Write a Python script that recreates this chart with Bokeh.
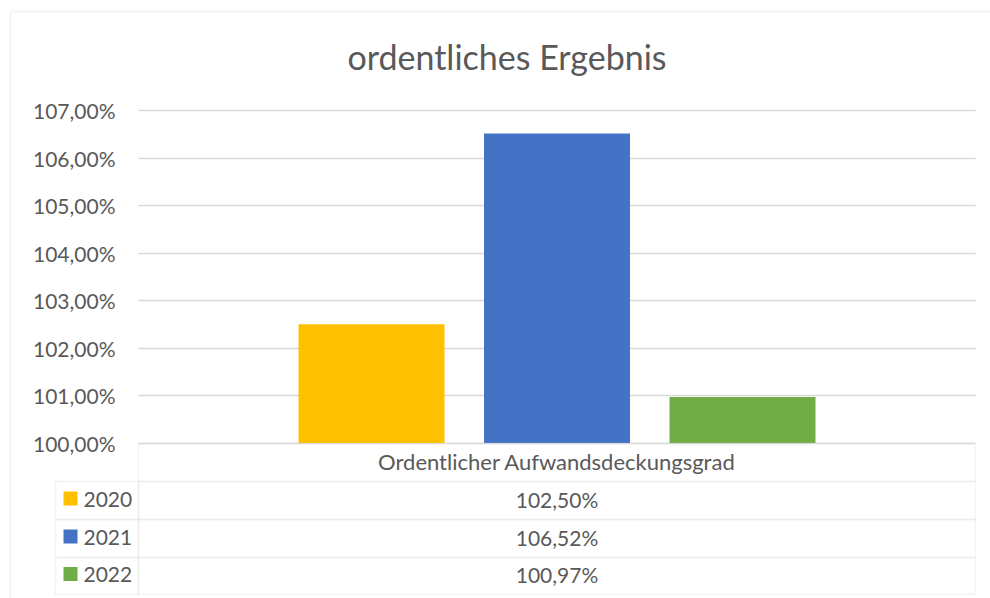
from bokeh.plotting import figure
from bokeh.models import Range1d, FixedTicker, BoxAnnotation, Label
from bokeh.embed import file_html
from bokeh.resources import INLINE

# ---- data ----
title_text = "ordentliches Ergebnis"
category = "Ordentlicher Aufwandsdeckungsgrad"
years = ["2020", "2021", "2022"]
values = [102.50, 106.52, 100.97]
colors = ["#FFC000", "#4472C4", "#70AD47"]
y_ticks = [100, 101, 102, 103, 104, 105, 106, 107]
y_tick_labels = ["100,00%", "101,00%", "102,00%", "103,00%",
                 "104,00%", "105,00%", "106,00%", "107,00%"]

TXT = "#595959"
GRID = "#D9D9D9"
FONT = "Lato"

W, H = 990, 598
# plot-area geometry (canvas px)
PA_L, PA_R = 138, 975
PX_PER_CAT = 185.5          # distance between bar centres
FIRST_CENTER = 371.0        # px of first bar centre
PX_PER_PCT = 47.46          # px per 1 percentage point
Y100 = 442.5                # px of 100 %

x_pos = list(range(len(years)))


def px_to_x(px):
    return (px - FIRST_CENTER) / PX_PER_CAT


def px_to_y(py):
    return 100 + (Y100 - py) / PX_PER_PCT


p = figure(width=W, height=H, title=None,
           x_range=Range1d(px_to_x(0), px_to_x(W)),
           y_range=Range1d(px_to_y(H), px_to_y(0)),
           output_backend="svg", toolbar_location=None,
           x_axis_location=None,
           min_border=0, min_border_left=0, min_border_right=0,
           min_border_top=0, min_border_bottom=0)
p.background_fill_color = "white"
p.border_fill_color = "white"
p.outline_line_color = None

p.vbar(x=x_pos, top=values, bottom=100, width=146 / PX_PER_CAT,
       color=colors, line_color=None)

# y axis pinned to the plot-area's left edge
yax = p.yaxis[0]
yax.fixed_location = px_to_x(PA_L)
yax.ticker = FixedTicker(ticks=y_ticks)
yax.major_label_overrides = {t: l for t, l in zip(y_ticks, y_tick_labels)}
yax.axis_line_color = None
yax.major_tick_line_color = None
yax.minor_tick_line_color = None
yax.major_tick_out = 0
yax.major_tick_in = 0
yax.major_label_standoff = 23
yax.major_label_text_font = FONT
yax.major_label_text_font_size = "21px"
yax.major_label_text_color = TXT

p.xgrid.visible = False
yg = p.ygrid[0]
yg.ticker = FixedTicker(ticks=y_ticks)
yg.grid_line_color = GRID
yg.grid_line_width = 1.5
try:
    yg.cross_bounds = (px_to_x(PA_L), px_to_x(PA_R))
except Exception:
    yg.visible = False
    p.segment(x0=[px_to_x(PA_L)] * len(y_ticks), x1=[px_to_x(PA_R)] * len(y_ticks),
              y0=y_ticks, y1=y_ticks, line_color=GRID, line_width=1.5)


def fx(X):
    return X


def fy(Y):
    return H - Y


def box(l, r, t, b, fill=None, lc=GRID, lw=1.5):
    p.add_layout(BoxAnnotation(left=fx(l), right=fx(r), top=fy(t), bottom=fy(b),
                               left_units="screen", right_units="screen",
                               top_units="screen", bottom_units="screen",
                               fill_color=fill, fill_alpha=1.0 if fill else 0.0,
                               line_color=lc, line_width=lw, level="overlay"))


def label(X, Y, text, size="21px", align="center", baseline="middle"):
    p.add_layout(Label(x=fx(X), y=fy(Y), x_units="screen", y_units="screen", text=text,
                       text_align=align, text_baseline=baseline, text_font=FONT,
                       text_font_size=size, text_color=TXT))


# outer chart border (top and left edges visible)
box(10, 1010, 11, 640, lw=2)

# title
label(506.5, 56, title_text, size="34px")

# data table
row_edges = [443, 481, 519, 557, 594]
box(PA_L, PA_R, row_edges[0], row_edges[1])
label((PA_L + PA_R) / 2, (row_edges[0] + row_edges[1]) / 2 - 1, category, size="22px")
for i, (yr, v, c) in enumerate(zip(years, values, colors)):
    t, b = row_edges[i + 1], row_edges[i + 2]
    mid = (t + b) / 2
    box(55, PA_L, t, b)
    box(PA_L, PA_R, t, b)
    box(63, 77, mid - 9, mid + 5, fill=c, lc=None, lw=0)
    label(83, mid - 1.5, yr, align="left")
    label((PA_L + PA_R) / 2, mid - 1.5, f"{v:.2f}".replace(".", ",") + "%")

open("out.html", "w").write(file_html(p, INLINE))
